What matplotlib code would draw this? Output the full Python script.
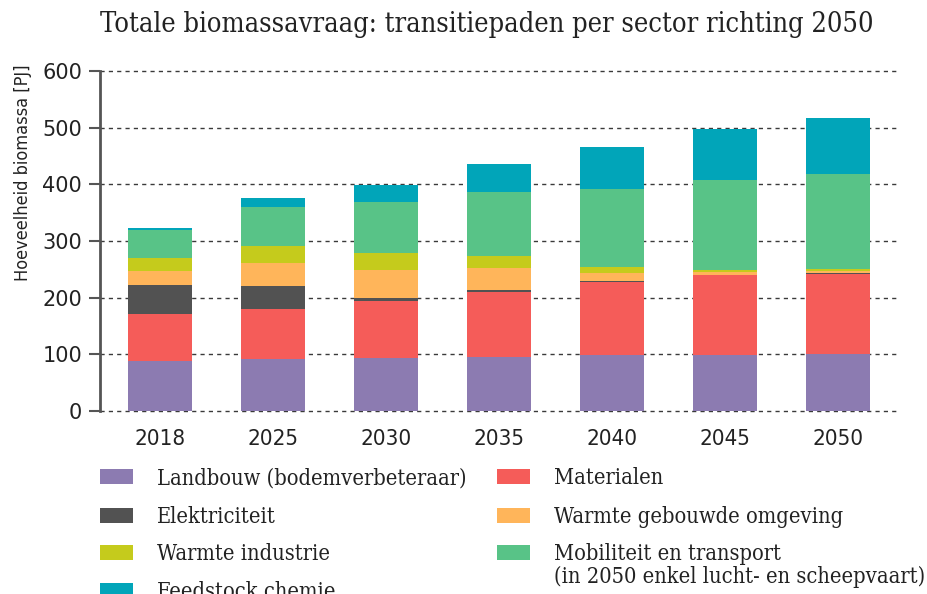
import numpy as np
import matplotlib
matplotlib.use('Agg')
import matplotlib.pyplot as plt
from matplotlib.patches import Rectangle

# data (PJ)
years = ['2018', '2025', '2030', '2035', '2040', '2045', '2050']
sectors = ['Landbouw (bodemverbeteraar)', 'Materialen', 'Elektriciteit',
           'Warmte gebouwde omgeving', 'Warmte industrie',
           'Mobiliteit en transport\n(in 2050 enkel lucht- en scheepvaart)',
           'Feedstock chemie']
landbouw      = [88, 92, 94, 96, 98, 99, 101]
materialen    = [83, 88, 100, 114, 130, 141, 141]
elektriciteit = [51, 41, 6, 3.5, 1.5, 0, 1.5]
warmte_geb    = [25, 40, 49, 38.5, 14, 5, 3.5]
warmte_ind    = [23, 30, 30, 22, 11, 3.5, 3.5]
mobiliteit    = [49, 69, 90, 113, 138, 160, 168]
feedstock     = [4, 16, 30, 49, 74, 90, 98]
colors = ['#8c7bb1', '#f55c59', '#525252', '#ffb55a', '#c5cb1c', '#58c387', '#01a5b9']

W, H = 927, 594
fig = plt.figure(figsize=(W / 100, H / 100), dpi=100)
ax = fig.add_axes([100 / W, 1 - 411 / H, 800 / W, 340 / H])

series = [landbouw, materialen, elektriciteit, warmte_geb, warmte_ind, mobiliteit, feedstock]
x = np.arange(len(years))
bottom = np.zeros(len(years))
for vals, col in zip(series, colors):
  ax.bar(x, vals, width=0.57, bottom=bottom, color=col, edgecolor='none', zorder=3)
  bottom += np.array(vals)

ax.set_xlim(-0.53, 6.55)
ax.set_ylim(0, 600)
ax.set_yticks(range(0, 601, 100))
ax.set_xticks(x)
ax.set_xticklabels(years)
for s in ['top', 'right', 'bottom']:
  ax.spines[s].set_visible(False)
ax.spines['left'].set_color('#555555')
ax.spines['left'].set_linewidth(2)
ax.spines['left'].set_zorder(4)
ax.yaxis.grid(True, linestyle=(0, (3, 3)), color='#3a3a3a', linewidth=1, zorder=0)
for gl in ax.get_ygridlines():
  gl.set_clip_on(False)
ax.tick_params(axis='y', length=8, width=1.5, color='#555555', pad=5, labelsize=15, labelcolor='#222222')
ax.tick_params(axis='x', length=0, pad=13, labelcolor='#222222')
for lbl in ax.get_xticklabels():
  lbl.set_fontsize(16)
  lbl.set_fontstretch('condensed')
ax.set_ylabel('Hoeveelheid biomassa [PJ]', fontsize=13, fontstretch='condensed', color='#222222')
ax.yaxis.set_label_coords(-0.085, 0.70)

fig.text(487 / W, 1 - 24 / H, 'Totale biomassavraag: transitiepaden per sector richting 2050',
         ha='center', va='center', fontsize=19.5, family='DejaVu Serif', fontstretch='condensed',
         color='#222222')

# legend, two columns, last row runs off the bottom like the original
leg_order = [0, 2, 4, 6, 1, 3, 5]
col_x = [100, 497]
row_y = [476.5, 515, 552, 590]
for k, idx in enumerate(leg_order):
  col = 0 if k < 4 else 1
  row = k if k < 4 else k - 4
  px, py = col_x[col], row_y[row]
  fig.add_artist(Rectangle((px / W, 1 - (py + 7.5) / H), 33 / W, 15 / H,
                           transform=fig.transFigure, color=colors[idx], lw=0))
  for j, line in enumerate(sectors[idx].split('\n')):
    fig.text((px + 57) / W, 1 - (py + 8 + j * 23) / H, line, ha='left', va='baseline',
             fontsize=15.7, family='DejaVu Serif', fontstretch='condensed', color='#222222')

fig.savefig('out.png', dpi=100)
